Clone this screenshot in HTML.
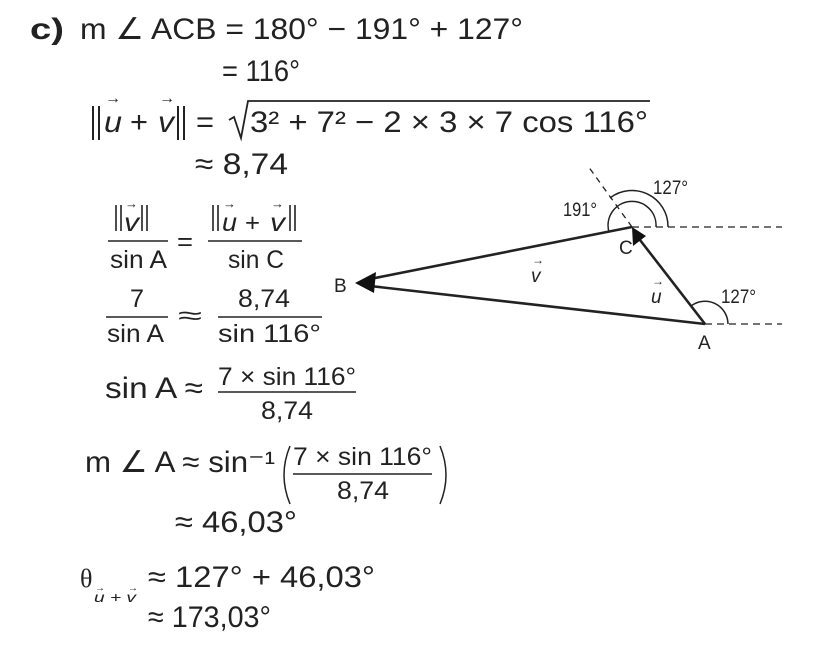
<!DOCTYPE html>
<html><head><meta charset="utf-8"><style>
html,body{margin:0;padding:0;background:#fff;}
svg{display:block;font-family:"Liberation Sans",sans-serif;}
</style></head><body>
<svg width="828" height="654" viewBox="0 0 828 654" xmlns="http://www.w3.org/2000/svg">
<g fill="#222" font-size="30">
<text x="30" y="39" font-weight="bold" textLength="34" lengthAdjust="spacingAndGlyphs">c)</text>
<text x="80" y="39" textLength="443" lengthAdjust="spacingAndGlyphs">m ∠ ACB = 180° − 191° + 127°</text>
<text x="222" y="81" textLength="78" lengthAdjust="spacingAndGlyphs">= 116°</text>
<line x1="93" y1="106" x2="93" y2="140" stroke="#222" stroke-width="2"/>
<line x1="99" y1="106" x2="99" y2="140" stroke="#222" stroke-width="2"/>
<text x="104" y="132" font-style="italic" textLength="18" lengthAdjust="spacingAndGlyphs">u</text><text x="105" y="103" font-size="16">→</text>
<text x="130" y="132" textLength="18" lengthAdjust="spacingAndGlyphs">+</text>
<text x="158" y="132" font-style="italic" textLength="16" lengthAdjust="spacingAndGlyphs">v</text><text x="159" y="103" font-size="16">→</text>
<line x1="178" y1="106" x2="178" y2="140" stroke="#222" stroke-width="2"/>
<line x1="184" y1="106" x2="184" y2="140" stroke="#222" stroke-width="2"/>
<text x="196" y="132" textLength="18" lengthAdjust="spacingAndGlyphs">=</text>
<polyline points="229,120 234,117 241,138 248,101 650,101" fill="none" stroke="#222" stroke-width="1.8"/>
<text x="250" y="132" textLength="398" lengthAdjust="spacingAndGlyphs">3² + 7² − 2 × 3 × 7 cos 116°</text>
<text x="195" y="174" textLength="93" lengthAdjust="spacingAndGlyphs">≈ 8,74</text>
<g font-size="25">
<line x1="116" y1="205" x2="116" y2="231" stroke="#222" stroke-width="1.6"/>
<line x1="121" y1="205" x2="121" y2="231" stroke="#222" stroke-width="1.6"/>
<text x="124" y="231" font-style="italic" textLength="15" lengthAdjust="spacingAndGlyphs">v</text><text x="125" y="208" font-size="13">→</text>
<line x1="142" y1="205" x2="142" y2="231" stroke="#222" stroke-width="1.6"/>
<line x1="147" y1="205" x2="147" y2="231" stroke="#222" stroke-width="1.6"/>
<line x1="108" y1="241" x2="168" y2="241" stroke="#222" stroke-width="1.5"/>
<text x="110" y="268" textLength="57" lengthAdjust="spacingAndGlyphs">sin A</text>
<text x="177" y="250" textLength="16" lengthAdjust="spacingAndGlyphs">=</text>
<line x1="213" y1="205" x2="213" y2="231" stroke="#222" stroke-width="1.6"/>
<line x1="218" y1="205" x2="218" y2="231" stroke="#222" stroke-width="1.6"/>
<text x="222" y="231" font-style="italic" textLength="15" lengthAdjust="spacingAndGlyphs">u</text><text x="223" y="208" font-size="13">→</text>
<text x="245" y="231" textLength="15" lengthAdjust="spacingAndGlyphs">+</text>
<text x="270" y="231" font-style="italic" textLength="15" lengthAdjust="spacingAndGlyphs">v</text><text x="271" y="208" font-size="13">→</text>
<line x1="290" y1="205" x2="290" y2="231" stroke="#222" stroke-width="1.6"/>
<line x1="295" y1="205" x2="295" y2="231" stroke="#222" stroke-width="1.6"/>
<line x1="208" y1="241" x2="302" y2="241" stroke="#222" stroke-width="1.5"/>
<text x="228" y="268" textLength="56" lengthAdjust="spacingAndGlyphs">sin C</text>
<text x="130" y="307" textLength="14" lengthAdjust="spacingAndGlyphs">7</text>
<line x1="106" y1="317" x2="168" y2="317" stroke="#222" stroke-width="1.5"/>
<text x="107" y="342" textLength="57" lengthAdjust="spacingAndGlyphs">sin A</text>
<text x="178" y="324" textLength="24" lengthAdjust="spacingAndGlyphs">≈</text>
<text x="238" y="307" textLength="52" lengthAdjust="spacingAndGlyphs">8,74</text>
<line x1="218" y1="317" x2="322" y2="317" stroke="#222" stroke-width="1.5"/>
<text x="218" y="342" textLength="103" lengthAdjust="spacingAndGlyphs">sin 116°</text>
<text x="218" y="385" textLength="138" lengthAdjust="spacingAndGlyphs">7 × sin 116°</text>
<line x1="218" y1="392" x2="356" y2="392" stroke="#222" stroke-width="1.5"/>
<text x="261" y="419" textLength="52" lengthAdjust="spacingAndGlyphs">8,74</text>
<text x="293" y="465" textLength="139" lengthAdjust="spacingAndGlyphs">7 × sin 116°</text>
<line x1="293" y1="474" x2="432" y2="474" stroke="#222" stroke-width="1.5"/>
<text x="337" y="499" textLength="52" lengthAdjust="spacingAndGlyphs">8,74</text>
</g>
<text x="105" y="398" textLength="98" lengthAdjust="spacingAndGlyphs">sin A ≈</text>
<text x="85" y="472" textLength="190" lengthAdjust="spacingAndGlyphs">m ∠ A ≈ sin⁻¹</text>
<path d="M290,446 Q278,475 290,504" fill="none" stroke="#222" stroke-width="1.5"/>
<path d="M440,446 Q452,475 440,504" fill="none" stroke="#222" stroke-width="1.5"/>
<text x="175" y="532" textLength="122" lengthAdjust="spacingAndGlyphs">≈ 46,03°</text>
<text x="80" y="587" font-family="Liberation Serif,serif" font-size="26">θ</text>
<text x="94" y="602" font-size="14" font-style="italic" textLength="42" lengthAdjust="spacingAndGlyphs">u + v</text>
<text x="95" y="591" font-size="10">→</text><text x="128" y="591" font-size="10">→</text>
<text x="148" y="587" textLength="227" lengthAdjust="spacingAndGlyphs">≈ 127° + 46,03°</text>
<text x="148" y="627" textLength="123" lengthAdjust="spacingAndGlyphs">≈ 173,03°</text>
</g>
<g stroke="#222" fill="none">
<line x1="632" y1="227" x2="782" y2="227" stroke-dasharray="7,5" stroke-width="1.3"/>
<line x1="705" y1="324" x2="782" y2="324" stroke-dasharray="7,5" stroke-width="1.3"/>
<line x1="632" y1="227" x2="588" y2="166" stroke-dasharray="6,5" stroke-width="1.3"/>
<path d="M656,227 A24,24 0 1 0 609,232" stroke-width="1.5"/>
<path d="M668,227 A36,36 0 0 0 610,198" stroke-width="1.5"/>
<path d="M728,324 A23,23 0 0 0 691,306" stroke-width="1.5"/>
<line x1="632" y1="227" x2="370" y2="279" stroke-width="2.6"/>
<line x1="705" y1="324" x2="370" y2="286" stroke-width="2.6"/>
<line x1="705" y1="324" x2="640" y2="240" stroke-width="2.6"/>
</g>
<polygon points="355,283 376,272 374,293" fill="#111"/>
<polygon points="632,227 633,246 646,236" fill="#111"/>
<g fill="#222" font-size="19">
<text x="563" y="216" textLength="34" lengthAdjust="spacingAndGlyphs">191°</text>
<text x="653" y="194" textLength="35" lengthAdjust="spacingAndGlyphs">127°</text>
<text x="721" y="303" textLength="35" lengthAdjust="spacingAndGlyphs">127°</text>
<text x="619" y="254">C</text>
<text x="698" y="349">A</text>
<text x="334" y="292">B</text>
<text x="531" y="282" font-style="italic">v</text><text x="532" y="264" font-size="12">→</text>
<text x="651" y="303" font-style="italic">u</text><text x="652" y="285" font-size="12">→</text>
</g>
</svg>
</body></html>
